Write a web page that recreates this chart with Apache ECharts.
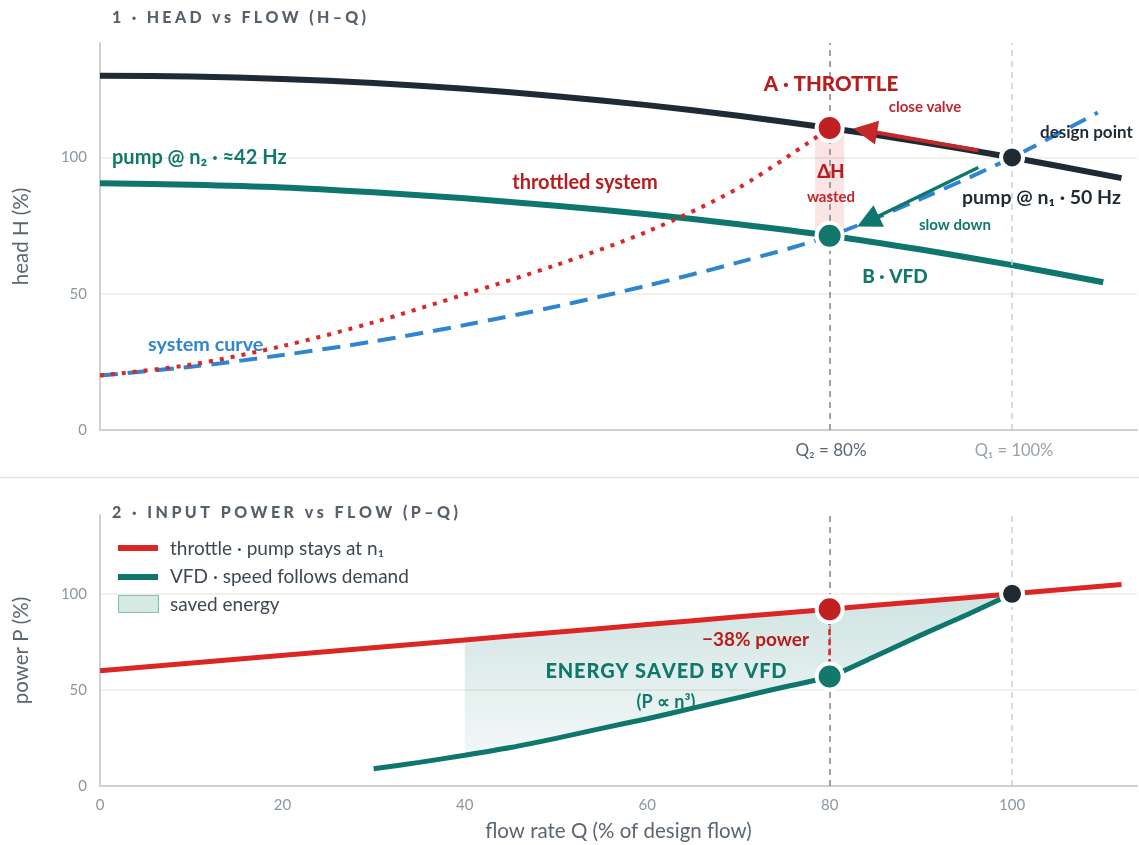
<!DOCTYPE html>
<html><head><meta charset="utf-8">
<script src="https://cdn.jsdelivr.net/npm/echarts@6/dist/echarts.min.js"></script>
<style>html,body{margin:0;padding:0;background:#fff}#c{width:1139px;height:845px}</style>
</head><body><div id="c"></div>
<script>
// ---- data ----
const flowTicks = [0, 20, 40, 60, 80, 100];
const valueTicks = [0, 50, 100];
// pump curve at full speed n1 (50 Hz)
const pumpN1Q = [0, 10, 20, 30, 40, 50, 60, 70, 80, 90, 100, 112];
const pumpN1H = [130, 129.7, 128.8, 127.3, 125.2, 122.5, 119.2, 115.3, 110.8, 105.7, 100, 92.4];
// pump curve at reduced speed n2 (~42 Hz)
const pumpN2Q = [0, 10, 20, 30, 40, 50, 60, 70, 80, 90, 100, 110];
const pumpN2H = [90.5, 90, 89, 87.2, 85, 82.3, 79.2, 75.5, 71.3, 66.2, 60.5, 54.2];
// system curve
const sysQ = [0, 10, 20, 30, 40, 50, 60, 70, 80, 90, 100, 109.4];
const sysH = [20, 23.2, 27.5, 32.5, 38.5, 45.3, 53, 61.5, 71.2, 84.8, 100, 116.5];
// throttled system curve
const thrQ = [0, 10, 20, 30, 40, 50, 60, 70, 80];
const thrH = [20, 24, 30.8, 39.5, 49.8, 60.5, 72.8, 88.8, 110.8];
// operating points
const designPoint = [100, 100];
const throttlePoint = [80, 110.8];
const vfdPoint = [80, 71.3];
// arrows [from, to]
const arrowClose = [[96.3, 102.6], [83.9, 109.9]];
const arrowSlow = [[96.3, 96.3], [84.2, 76.6]];
// input power
const pThrQ = [0, 40, 45, 50, 55, 60, 65, 70, 75, 80, 85, 90, 95, 100, 112];
const pThrP = [60, 76, 78, 80, 82, 84, 86, 88, 90, 92, 94, 96, 98, 100, 104.8];
const pVfdQ = [30, 35, 40, 45, 50, 55, 60, 65, 70, 75, 80, 85, 90, 95, 100];
const pVfdP = [9, 12.3, 16, 20, 24.8, 30, 35, 40.5, 46, 51.5, 57, 67.5, 78.5, 89, 100];
const powerThrottle80 = 92, powerVfd80 = 57, powerDesign = 100;
const savedFrom = 40, savedTo = 100;

// ---- build ----
const zip = (a, b) => a.map((v, i) => [v, b[i]]);
const F = 'Lato, "Noto Sans", sans-serif';
const TEAL = '#0f766e', RED = '#dc2626', DRED = '#b91c1c', NAVY = '#1e2b35', BLUE = '#2f86d0';

const fillTop = pThrQ.map((q, i) => [q, pThrP[i]]).filter(p => p[0] >= savedFrom && p[0] <= savedTo);
const fillBot = pVfdQ.map((q, i) => [q, pVfdP[i]]).filter(p => p[0] >= savedFrom && p[0] <= savedTo);

const halo = (c, s) => ({ symbol: 'circle', symbolSize: s, itemStyle: { color: c, borderColor: '#fff', borderWidth: 4, opacity: 1 } });

function txt(x, y, text, size, color, opts, weight) {
  return { type: 'text', x, y, z: 50, style: Object.assign({ text, font: `${weight || 'bold'} ${size}px ${F}`, fill: color, align: 'left', verticalAlign: 'middle' }, opts || {}) };
}
const mctx = document.createElement('canvas').getContext('2d');
function spaced(x, y, str, size, color, targetW, align, weight) {
  const font = `${weight || 'bold'} ${size}px ${F}`;
  mctx.font = font;
  const chars = str.split('');
  const ws = chars.map(c => mctx.measureText(c).width);
  const nat = ws.reduce((a, b) => a + b, 0);
  const gap = (targetW - nat) / (chars.length - 1);
  let cx = align === 'center' ? x - targetW / 2 : x;
  const children = chars.map((c, i) => {
    const el = { type: 'text', x: cx, y, style: { text: c, font, fill: color, align: 'left', verticalAlign: 'middle' } };
    cx += ws[i] + gap;
    return el;
  });
  return { type: 'group', z: 50, children };
}

const option = {
  animation: false,
  backgroundColor: '#fff',
  grid: [
    { left: 100, top: 43, right: 2, height: 387 },
    { left: 100, top: 515, right: 2, height: 271 }
  ],
  xAxis: [0, 1].map(i => ({
    gridIndex: i, type: 'value', min: 0, max: 113.7, interval: 20,
    axisLine: { show: true, lineStyle: { color: '#cdd1d5', width: 2 } },
    axisTick: { show: false }, splitLine: { show: false },
    axisLabel: { show: i === 1, showMaxLabel: false, color: '#8d979f', fontSize: 15, fontFamily: F, margin: 12,
      formatter: v => flowTicks.includes(v) ? String(v) : '' },
    name: i === 1 ? 'flow rate Q (% of design flow)' : '', nameLocation: 'middle', nameGap: 35,
    nameTextStyle: { color: '#5b6670', fontSize: 20.5, fontFamily: F }
  })),
  yAxis: [0, 1].map(i => ({
    gridIndex: i, type: 'value', min: 0, max: i === 0 ? 142 : 141, interval: 50,
    axisLine: { show: true, lineStyle: { color: '#cdd1d5', width: 2 } },
    axisTick: { show: false },
    splitLine: { show: true, lineStyle: { color: ['transparent', '#ecebe3', '#ecebe3', 'transparent'], width: 1.5 } },
    axisLabel: { color: '#8d979f', fontSize: 15, fontFamily: F, margin: 13, showMaxLabel: false,
      formatter: v => valueTicks.includes(v) ? String(v) : '' },
    name: i === 0 ? 'head H (%)' : 'power P (%)', nameLocation: 'middle', nameRotate: 90, nameGap: 68,
    nameTextStyle: { color: '#5b6670', fontSize: 20.5, fontFamily: F }
  })),
  series: [
    // reference lines top
    { type: 'line', xAxisIndex: 0, yAxisIndex: 0, data: [], z: 1,
      markLine: { silent: true, symbol: 'none', label: { show: false },
        data: [
          { xAxis: 80, lineStyle: { color: '#7d858c', width: 1.5, type: [6, 5] } },
          { xAxis: 100, lineStyle: { color: '#c9d0d6', width: 1.5, type: [6, 5] } }
        ] },
      markArea: { silent: true, itemStyle: { color: 'rgba(226,90,90,0.16)' },
        data: [[{ coord: [78.4, vfdPoint[1]] }, { coord: [81.6, throttlePoint[1]] }]] } },
    { name: 'pump n1', type: 'line', xAxisIndex: 0, yAxisIndex: 0, data: zip(pumpN1Q, pumpN1H), smooth: 0.3,
      showSymbol: false, lineStyle: { color: NAVY, width: 6 }, z: 3 },
    { name: 'pump n2', type: 'line', xAxisIndex: 0, yAxisIndex: 0, data: zip(pumpN2Q, pumpN2H), smooth: 0.3,
      showSymbol: false, lineStyle: { color: TEAL, width: 6 }, z: 3 },
    { name: 'system', type: 'line', xAxisIndex: 0, yAxisIndex: 0, data: zip(sysQ, sysH), smooth: 0.3,
      showSymbol: false, lineStyle: { color: BLUE, width: 4, type: [18, 10] }, z: 4 },
    { name: 'throttled', type: 'line', xAxisIndex: 0, yAxisIndex: 0, data: zip(thrQ, thrH), smooth: 0.3,
      showSymbol: false, lineStyle: { color: RED, width: 4, type: [4, 7] }, z: 4 },
    // arrows
    { type: 'line', xAxisIndex: 0, yAxisIndex: 0, data: [], z: 6,
      markLine: { silent: true, label: { show: false }, symbol: ['none', 'triangle'], symbolSize: 24,
        data: [
          [{ coord: arrowClose[0], lineStyle: { color: '#c62828', width: 4, type: 'solid' }, itemStyle: { color: '#c62828' } }, { coord: arrowClose[1] }],
          [{ coord: arrowSlow[0], lineStyle: { color: TEAL, width: 3.5, type: 'solid' }, itemStyle: { color: TEAL } }, { coord: arrowSlow[1] }]
        ] } },
    // markers top
    { type: 'scatter', xAxisIndex: 0, yAxisIndex: 0, z: 8,
      data: [
        Object.assign({ value: throttlePoint }, halo('#c0201f', 26)),
        Object.assign({ value: vfdPoint }, halo('#11786b', 26)),
        Object.assign({ value: designPoint }, halo(NAVY, 22))
      ] },

    // bottom: reference lines
    { type: 'line', xAxisIndex: 1, yAxisIndex: 1, data: [], z: 1,
      markLine: { silent: true, symbol: 'none', label: { show: false },
        data: [
          { xAxis: 80, lineStyle: { color: '#7d858c', width: 1.5, type: [6, 5] } },
          { xAxis: 100, lineStyle: { color: '#c9d0d6', width: 1.5, type: [6, 5] } },
          [{ coord: [80, powerThrottle80], lineStyle: { color: RED, width: 2.5, type: [6, 4] } }, { coord: [80, powerVfd80] }]
        ] } },
    // saved energy fill
    { type: 'custom', xAxisIndex: 1, yAxisIndex: 1, z: 2, data: [0], silent: true,
      renderItem: (params, api) => {
        const pts = fillTop.map(p => api.coord(p)).concat(fillBot.slice().reverse().map(p => api.coord(p)));
        return { type: 'polygon', shape: { points: pts },
          style: { fill: new echarts.graphic.LinearGradient(0, 0, 0, 1, [
            { offset: 0, color: 'rgba(15,118,110,0.20)' }, { offset: 1, color: 'rgba(15,118,110,0.05)' }]) } };
      } },
    { name: 'throttle power', type: 'line', xAxisIndex: 1, yAxisIndex: 1, data: zip(pThrQ, pThrP),
      showSymbol: false, lineStyle: { color: RED, width: 5 }, z: 3 },
    { name: 'vfd power', type: 'line', xAxisIndex: 1, yAxisIndex: 1, data: zip(pVfdQ, pVfdP), smooth: 0.3,
      showSymbol: false, lineStyle: { color: TEAL, width: 5 }, z: 3 },
    { type: 'scatter', xAxisIndex: 1, yAxisIndex: 1, z: 8,
      data: [
        Object.assign({ value: [80, powerThrottle80] }, halo('#c0201f', 26)),
        Object.assign({ value: [80, powerVfd80] }, halo('#11786b', 26)),
        Object.assign({ value: [100, powerDesign] }, halo(NAVY, 22))
      ] }
  ],
  graphic: [
    { type: 'line', shape: { x1: 0, y1: 477.5, x2: 1139, y2: 477.5 }, style: { stroke: '#e9e7dc', lineWidth: 1.5 } },
    spaced(112, 18, '1 · HEAD vs FLOW (H–Q)', 16, '#56616b', 254, 'left', 900),
    spaced(112, 513, '2 · INPUT POWER vs FLOW (P–Q)', 16, '#56616b', 346, 'left', 900),
    txt(831, 84, 'A · THROTTLE', 20.5, DRED, { align: 'center' }, 900),
    txt(925, 107, 'close valve', 15, '#c0262d', { align: 'center' }),
    txt(1040, 133, 'design point', 17, NAVY),
    txt(962, 198, 'pump @ n₁ · 50 Hz', 19.5, NAVY),
    txt(955, 225, 'slow down', 15, '#11786b', { align: 'center' }),
    txt(831, 172, 'ΔH', 18.5, DRED, { align: 'center' }, 900),
    txt(831, 197, 'wasted', 15, '#c0262d', { align: 'center' }),
    txt(895, 277, 'B · VFD', 19, '#11786b', { align: 'center' }, 900),
    txt(112, 158, 'pump @ n₂ · ≈42 Hz', 20, '#11786b'),
    txt(585, 183, 'throttled system', 20, DRED, { align: 'center' }),
    txt(148, 345, 'system curve', 19.8, BLUE),
    txt(831, 451, 'Q₂ = 80%', 17, '#5b6670', { align: 'center' }, 'normal'),
    txt(1014, 451, 'Q₁ = 100%', 16.5, '#98a2aa', { align: 'center' }, 'normal'),
    txt(809, 640, '−38% power', 19, DRED, { align: 'right' }),
    spaced(666, 672, 'ENERGY SAVED BY VFD', 20, '#11786b', 241, 'center', 900),
    txt(666, 702, '(P ∝ n³)', 18, '#11786b', { align: 'center' }),
    // legend
    { type: 'rect', shape: { x: 118, y: 545, width: 40, height: 6 }, style: { fill: RED } },
    { type: 'rect', shape: { x: 118, y: 574, width: 40, height: 6 }, style: { fill: TEAL } },
    { type: 'rect', shape: { x: 118.5, y: 595.5, width: 40, height: 17 }, style: { fill: '#d6e9e4', stroke: '#86c3b3', lineWidth: 1.2 } },
    txt(170, 549, 'throttle · pump stays at n₁', 19, '#3d4852', null, 'normal'),
    txt(170, 577, 'VFD · speed follows demand', 19, '#3d4852', null, 'normal'),
    txt(170, 605, 'saved energy', 19, '#3d4852', null, 'normal')
  ]
};
const chart = echarts.init(document.getElementById('c'), null, { renderer: 'canvas' });
chart.setOption(option);
</script></body></html>
